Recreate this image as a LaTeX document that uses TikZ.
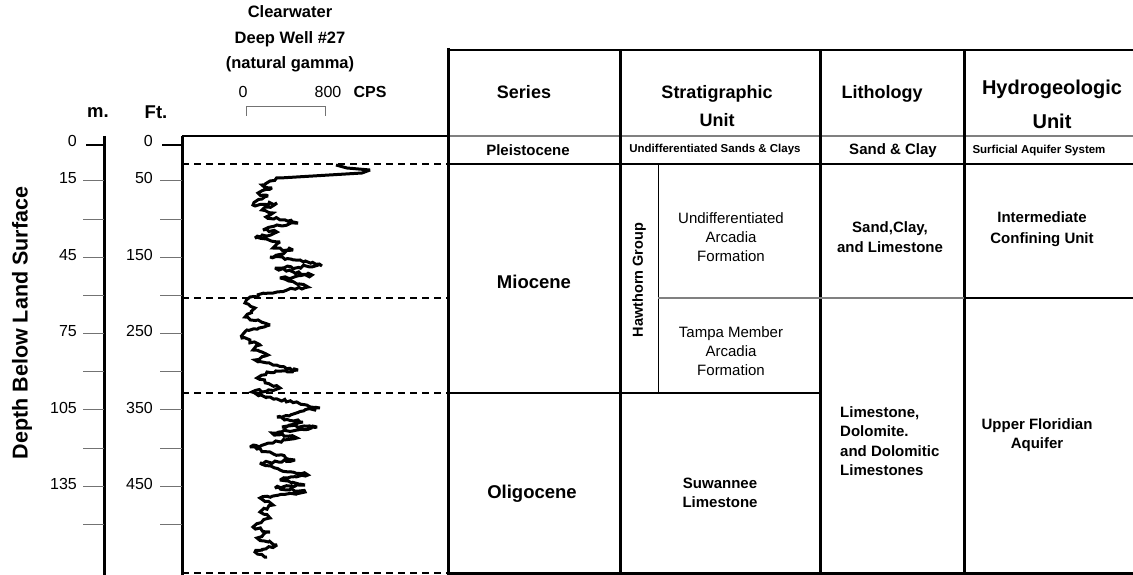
\documentclass[tikz,border=0pt]{standalone}
\usepackage{fontspec}
\setmainfont{Liberation Sans}
\usepackage{tikz}
\usetikzlibrary{decorations.pathmorphing}
\definecolor{tgray}{gray}{0.45}
\definecolor{lgray}{gray}{0.5}
\tikzset{hdr/.style = {font=\bfseries\fontsize{18}{28}\selectfont, align=center, inner sep=0}}
\tikzset{bigunit/.style = {font=\bfseries\fontsize{18.5}{22}\selectfont, inner sep=0}}
\tikzset{unit/.style = {font=\bfseries\fontsize{15}{19.5}\selectfont, align=center, inner sep=0}}
\tikzset{smallunit/.style = {font=\bfseries\fontsize{11.5}{14}\selectfont, inner sep=0}}
\tikzset{plainunit/.style = {font=\fontsize{15}{19}\selectfont, align=center, inner sep=0}}
\tikzset{depthnum/.style = {font=\fontsize{16}{18}\selectfont, anchor=east, inner sep=0}}
\tikzset{axisline/.style = {line width=3pt}}
\tikzset{minortick/.style = {tgray, line width=1pt}}
\tikzset{majortick/.style = {line width=2pt}}
\tikzset{colline/.style = {line width=3pt}}
\tikzset{rowline/.style = {line width=2pt}}
\tikzset{boundary/.style = {line width=1.5pt, dash pattern=on 7pt off 5pt}}
\tikzset{gammalog/.style = {line width=3pt, miter limit=3}}
\tikzset{gammanoise/.style = {gammalog, decorate, decoration={random steps, segment length=3.5pt, amplitude=1.6pt}}}

\begin{document}
\begin{tikzpicture}[x=1pt, y=-1pt]
    \useasboundingbox (0, 0) rectangle (1133, 575);
    \pgfmathsetseed{27}

    % well header
    \node [font=\bfseries\fontsize{16.5}{25.5}\selectfont, align=center, inner sep=0] (well) at (290, 39) {Clearwater\\Deep Well \#27\\(natural gamma)};
    \node [font=\fontsize{16}{18}\selectfont, inner sep=0] (cpslow) at (243, 92) {0};
    \node [font=\fontsize{16}{18}\selectfont, inner sep=0] (cpshigh) at (328, 92) {800};
    \node [font=\bfseries\fontsize{16}{18}\selectfont, inner sep=0] (cps) at (370, 92) {CPS};
    \draw [tgray, line width=1pt] (246, 116) -- (246, 107) -- (325, 107) -- (325, 116);

    % depth scales
    \node [rotate=90, font=\bfseries\fontsize{21.5}{24}\selectfont, inner sep=0] (depth) at (22, 323) {Depth Below Land Surface};
    \node [font=\bfseries\fontsize{18.5}{20}\selectfont, inner sep=0] (meter) at (98, 113) {m.};
    \node [font=\bfseries\fontsize{18.5}{20}\selectfont, inner sep=0] (feet) at (156, 112) {Ft.};

    \draw [axisline] (104, 136) -- (104, 575);
    \draw [axisline] (182, 136) -- (182, 575);
    \draw [majortick] (86, 145) -- (104, 145);
    \draw [majortick] (162, 145) -- (182, 145);
    \foreach \y in {181, 219, 257, 295, 333, 371, 409, 448, 486, 524} {
        \draw [minortick] (83, \y) -- (104, \y);
        \draw [minortick] (160, \y) -- (182, \y);
    }

    \node [depthnum] (m0) at (77, 141) {0};
    \node [depthnum] (m15) at (77, 178) {15};
    \node [depthnum] (m45) at (77, 255) {45};
    \node [depthnum] (m75) at (77, 331) {75};
    \node [depthnum] (m105) at (77, 408) {105};
    \node [depthnum] (m135) at (77, 484) {135};
    \node [depthnum] (f0) at (153, 141) {0};
    \node [depthnum] (f50) at (153, 178) {50};
    \node [depthnum] (f150) at (153, 255) {150};
    \node [depthnum] (f250) at (153, 331) {250};
    \node [depthnum] (f350) at (153, 408) {350};
    \node [depthnum] (f450) at (153, 484) {450};

    % log box and boundaries
    \draw [rowline] (182, 136) -- (448, 136);
    \draw [boundary] (182, 164) -- (448, 164);
    \draw [boundary] (182, 298) -- (448, 298);
    \draw [boundary] (182, 393) -- (448, 393);
    \draw [boundary] (182, 573) -- (448, 573);

    \draw [gammalog] (336, 165) -- (347, 168) -- (370, 170) -- (362, 173) -- (280, 178);
    \draw [gammanoise] (280, 178)
        -- (270, 181) -- (262, 185) -- (272, 188) -- (258, 193) -- (268, 196) -- (262, 199)
        -- (253, 205) -- (277, 203) -- (262, 210) -- (273, 213) -- (266, 217) -- (298, 223)
        -- (277, 225) -- (263, 230) -- (277, 232) -- (255, 238) -- (280, 242) -- (273, 248)
        -- (293, 250) -- (270, 257) -- (300, 260) -- (322, 266) -- (275, 268) -- (312, 275)
        -- (280, 278) -- (308, 287) -- (277, 292) -- (250, 297) -- (245, 303) -- (255, 308)
        -- (245, 317) -- (270, 325) -- (247, 330) -- (242, 338) -- (260, 345) -- (253, 350)
        -- (268, 355) -- (255, 360) -- (273, 365) -- (298, 370) -- (267, 372) -- (257, 378)
        -- (280, 388) -- (252, 392) -- (267, 397) -- (320, 408) -- (277, 417) -- (303, 422)
        -- (282, 427) -- (317, 427) -- (272, 433) -- (297, 438) -- (273, 443) -- (250, 447)
        -- (270, 452) -- (295, 460) -- (260, 463) -- (280, 470) -- (308, 475) -- (280, 480)
        -- (305, 485) -- (275, 488) -- (305, 492) -- (260, 498) -- (273, 505) -- (260, 512)
        -- (270, 518) -- (253, 527) -- (270, 532) -- (257, 538) -- (277, 545) -- (255, 552)
        -- (267, 557);

    % table frame
    \draw [rowline] (448, 50) -- (1133, 50);
    \draw [lgray, line width=1.5pt] (448, 136) -- (1133, 136);
    \draw [rowline] (448, 164) -- (1133, 164);
    \draw [colline] (448, 48) -- (448, 575);
    \draw [colline] (620, 50) -- (620, 575);
    \draw [colline] (820, 50) -- (820, 575);
    \draw [colline] (964, 50) -- (964, 575);
    \draw [line width=1pt] (658, 164) -- (658, 393);
    \draw [lgray, line width=1.5pt] (658, 298) -- (964, 298);
    \draw [line width=2.5pt] (964, 298) -- (1133, 298);
    \draw [rowline] (448, 393) -- (820, 393);
    \draw [line width=3pt] (448, 573) -- (1133, 573);

    % headings
    \node [hdr] (series) at (524, 92) {Series};
    \node [hdr] (strat) at (717, 106) {Stratigraphic\\Unit};
    \node [hdr] (litho) at (882, 94) {Lithology};
    \node [hdr, font=\bfseries\fontsize{20}{34}\selectfont] (hydro) at (1052, 104) {Hydrogeologic\\Unit};

    % units
    \node [unit] (pleist) at (528, 150) {Pleistocene};
    \node [smallunit] (sandsclays) at (715, 150) {Undifferentiated Sands \& Clays};
    \node [unit] (sandclay) at (893, 151) {Sand \& Clay};
    \node [smallunit] (surficial) at (1039, 151) {Surficial Aquifer System};

    \node [bigunit] (miocene) at (534, 282) {Miocene};
    \node [bigunit] (oligocene) at (532, 494) {Oligocene};
    \node [rotate=90, font=\bfseries\fontsize{14.5}{16}\selectfont, inner sep=0] (hawthorn) at (639, 280) {Hawthorn Group};
    \node [plainunit] (arcadia) at (731, 237) {Undifferentiated\\Arcadia\\Formation};
    \node [plainunit] (tampa) at (731, 351) {Tampa Member\\Arcadia\\Formation};
    \node [unit] (suwannee) at (720, 493) {Suwannee\\Limestone};

    \node [unit] (sandlime) at (890, 237) {Sand,Clay,\\and Limestone};
    \node [unit, align=left, anchor=west] (dolomite) at (840, 441) {Limestone,\\Dolomite.\\and Dolomitic\\Limestones};

    \node [unit, font=\bfseries\fontsize{15}{21}\selectfont] (icu) at (1042, 229) {Intermediate\\Confining Unit};
    \node [unit] (ufa) at (1037, 435) {Upper Floridian\\Aquifer};
\end{tikzpicture}
\end{document}
